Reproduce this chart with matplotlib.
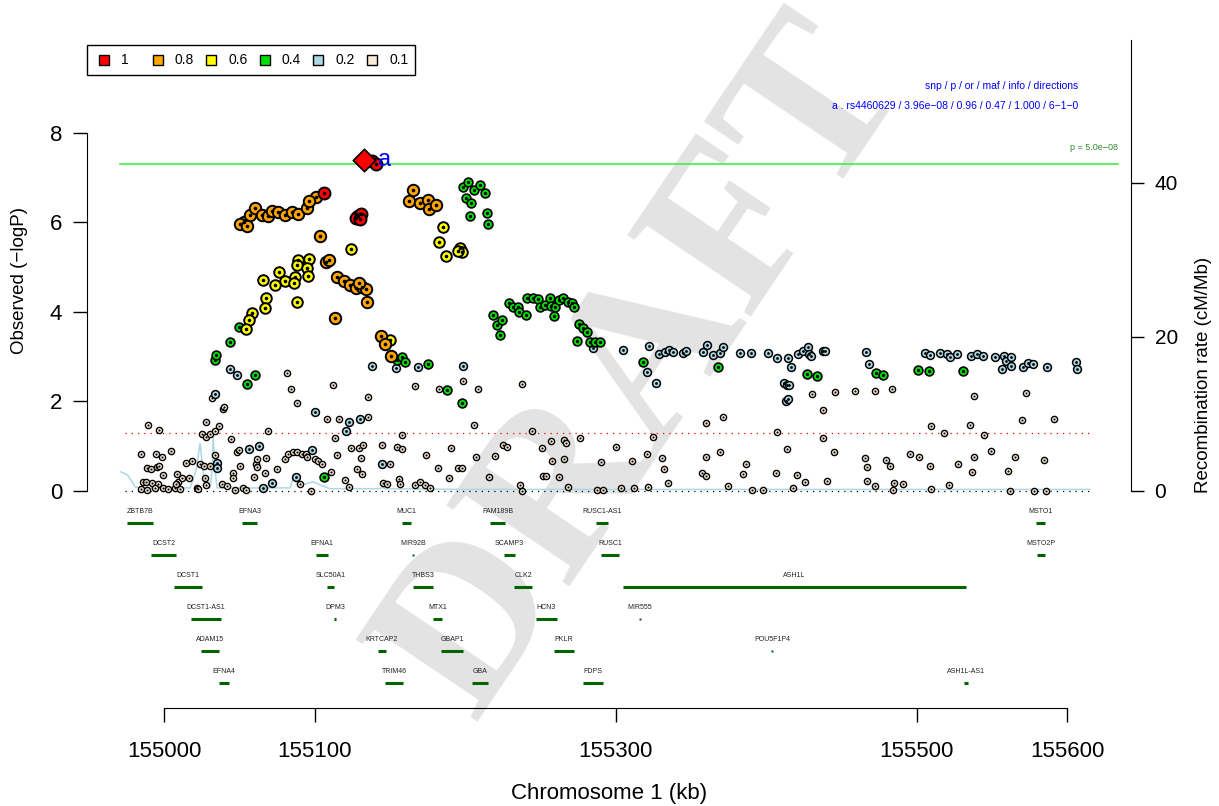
import matplotlib
matplotlib.use("Agg")
import matplotlib.pyplot as plt
from matplotlib.patches import Rectangle
from matplotlib.lines import Line2D
import numpy as np

plt.rcParams['font.family'] = ['Liberation Sans', 'DejaVu Sans']

# ---- SNP association results, grouped by LD with the lead SNP ----
ld1_pos = [155106.4, 155128.9, 155127.6, 155130.9, 155130.2, 155138.2, 155140.9]
ld1_logp = [6.66, 6.15, 6.10, 6.19, 6.08, 7.37, 7.31]

ld08_pos = [155101.0, 155053.2, 155057.1, 155060.5, 155065.1, 155069.1, 155071.8, 155075.8,
            155080.4, 155085.1, 155089.0, 155095.0, 155096.4, 155050.5, 155055.2, 155103.7,
            155107.7, 155109.7, 155113.6, 155115.0, 155119.6, 155123.6, 155127.6, 155131.6,
            155134.2, 155129.6, 155134.9, 155144.2, 155146.9, 155150.8, 155165.5, 155162.8,
            155170.1, 155175.4, 155176.1, 155180.8]
ld08_logp = [6.57, 6.01, 6.17, 6.32, 6.17, 6.15, 6.26, 6.23,
             6.17, 6.23, 6.19, 6.32, 6.48, 5.97, 5.92, 5.70,
             5.12, 5.16, 3.87, 4.78, 4.69, 4.60, 4.54, 4.56,
             4.51, 4.65, 4.22, 3.46, 3.28, 3.02, 6.73, 6.48,
             6.44, 6.50, 6.30, 6.39]

ld06_pos = [155124.3, 155089.0, 155096.4, 155088.4, 155095.0, 155095.7, 155076.4, 155087.1,
            155080.4, 155065.8, 155073.8, 155086.4, 155067.8, 155067.1, 155088.4, 155058.5,
            155056.5, 155054.5, 155150.2, 155185.4, 155182.7, 155187.4, 155196.7, 155198.0,
            155195.4]
ld06_logp = [5.41, 5.16, 5.18, 5.05, 4.98, 4.80, 4.89, 4.78,
             4.69, 4.72, 4.60, 4.65, 4.31, 4.09, 4.22, 3.98,
             3.82, 3.62, 3.37, 5.90, 5.56, 5.25, 5.43, 5.34,
             5.36]

ld04_pos = [155033.9, 155034.6, 155043.9, 155049.8, 155060.5, 155055.2, 155106.3, 155154.8,
            155158.2, 155160.2, 155175.4, 155188.1, 155198.0, 155198.7, 155202.0, 155206.0,
            155210.0, 155213.3, 155200.7, 155204.0, 155203.3, 155214.6, 155215.3, 155218.6,
            155221.3, 155223.3, 155224.6, 155229.3, 155231.9, 155235.2, 155235.9, 155240.5,
            155241.2, 155245.2, 155248.5, 155249.9, 155253.2, 155256.5, 155257.2, 155259.8,
            155259.2, 155262.5, 155265.1, 155268.5, 155271.1, 155272.4, 155275.8, 155278.4,
            155281.1, 155274.4, 155283.1, 155286.4, 155289.7, 155318.3, 155368.1, 155427.3,
            155433.9, 155473.1, 155477.8, 155501.0, 155508.3, 155530.9]
ld04_logp = [2.93, 3.04, 3.33, 3.66, 2.59, 2.39, 0.31, 2.93,
             2.99, 2.88, 2.84, 2.26, 1.97, 6.79, 6.90, 6.73,
             6.84, 6.66, 6.55, 6.44, 6.15, 6.21, 5.97, 3.93,
             3.71, 3.49, 3.82, 4.20, 4.11, 4.11, 4.00, 3.93,
             4.31, 4.31, 4.29, 4.11, 4.16, 4.31, 4.13, 4.11,
             3.91, 4.27, 4.31, 4.22, 4.20, 4.11, 3.73, 3.64,
             3.55, 3.35, 3.33, 3.33, 3.33, 2.88, 2.77, 2.61,
             2.57, 2.64, 2.59, 2.70, 2.68, 2.68]

ld02_pos = [155033.9, 155043.9, 155048.5, 155035.2, 155035.2, 155056.5, 155063.1, 155065.8,
            155071.8, 155087.7, 155098.3, 155100.3, 155120.9, 155122.9, 155130.2, 155138.2,
            155144.9, 155154.2, 155168.8, 155285.1, 155305.0, 155322.3, 155321.0, 155326.9,
            155328.9, 155332.9, 155335.6, 155338.2, 155344.9, 155346.9, 155358.2, 155360.8,
            155364.8, 155369.5, 155371.5, 155382.8, 155390.1, 155401.4, 155407.4, 155414.7,
            155416.6, 155412.0, 155414.0, 155415.3, 155413.3, 155414.7, 155421.3, 155424.6,
            155428.0, 155428.6, 155429.9, 155437.9, 155439.2, 155466.5, 155468.5, 155505.7,
            155509.0, 155515.7, 155520.3, 155522.3, 155527.0, 155536.3, 155540.2, 155544.2,
            155552.2, 155558.2, 155559.5, 155562.8, 155562.8, 155556.9, 155570.8, 155574.1,
            155577.5, 155586.8, 155606.0, 155606.7, 155198.9]
ld02_logp = [2.17, 2.73, 2.59, 0.63, 0.51, 0.94, 1.01, 0.07,
             0.18, 0.31, 0.92, 1.77, 1.34, 1.54, 1.61, 2.79,
             0.60, 2.75, 2.77, 3.20, 3.15, 3.24, 2.66, 2.41,
             3.06, 3.11, 3.15, 3.11, 3.08, 3.13, 3.11, 3.26,
             3.04, 3.08, 3.22, 3.08, 3.08, 3.08, 2.97, 2.97,
             2.77, 2.41, 2.37, 2.37, 2.01, 2.06, 3.06, 3.13,
             3.22, 3.06, 3.02, 3.13, 3.13, 3.11, 2.84, 3.08,
             3.04, 3.08, 3.06, 2.99, 3.06, 3.02, 3.06, 3.02,
             2.99, 3.02, 2.91, 2.99, 2.79, 2.73, 2.77, 2.86,
             2.84, 2.77, 2.88, 2.73, 2.80]

ld01_pos = [154989.4, 154996.7, 154984.7, 154994.7, 154998.7, 155004.7, 154988.7, 154991.4,
            154995.3, 154996.7, 154999.3, 154986.0, 154988.0, 154992.0, 154996.0, 154984.7,
            154988.7, 154994.0, 154999.3, 155002.7, 155007.3, 155010.6, 155009.3, 155008.0,
            155008.6, 155012.0, 155016.6, 155014.6, 155018.6, 155025.3, 155027.9, 155030.6,
            155033.9, 155036.5, 155027.9, 155039.2, 155039.9, 155031.9, 155023.9, 155026.6,
            155030.6, 155033.9, 155027.2, 155021.9, 155022.6, 155027.9, 155038.5, 155041.9,
            155047.2, 155052.5, 155054.5, 155044.5, 155048.5, 155049.8, 155050.5, 155045.9,
            155045.9, 155059.8, 155061.1, 155061.8, 155061.8, 155067.8, 155069.1, 155067.1,
            155075.1, 155081.7, 155084.4, 155088.4, 155080.4, 155082.4, 155085.7, 155088.4,
            155091.7, 155094.4, 155095.0, 155100.3, 155102.3, 155105.0, 155090.4, 155097.7,
            155112.3, 155108.3, 155116.3, 155135.6, 155135.6, 155113.6, 155115.0, 155111.0,
            155124.3, 155129.6, 155132.2, 155130.9, 155128.2, 155131.6, 155120.3, 155122.9,
            155144.9, 155154.8, 155158.2, 155158.2, 155150.2, 155145.5, 155148.2, 155156.2,
            155156.8, 155166.8, 155170.1, 155173.4, 155176.8, 155174.1, 155182.1, 155166.8,
            155189.4,
            155182.7, 155198.9, 155208.5, 155238.1, 155205.8, 155244.3, 155257.2, 155266.0,
            155266.9, 155190.9, 155225.5, 155228.1, 155251.0, 155207.5, 155219.9, 155257.8,
            155265.8, 155195.4, 155198.2, 155215.8, 155252.0, 155254.0, 155262.3, 155236.6,
            155237.7, 155268.5,
            155276.4, 155290.4, 155287.7, 155291.7, 155300.4, 155303.7, 155311.0, 155312.3,
            155321.0, 155321.6, 155325.0, 155330.9, 155332.3, 155334.9, 155357.5, 155360.2,
            155360.2, 155360.2, 155371.5, 155369.5, 155374.8, 155384.8, 155386.8, 155390.7,
            155398.1, 155407.4, 155406.7, 155414.0, 155418.0, 155420.6, 155426.0, 155430.6,
            155437.9, 155437.9, 155440.6, 155445.2, 155445.9, 155459.2, 155465.8, 155467.2,
            155467.2, 155472.5, 155472.5, 155483.8, 155479.8, 155482.4, 155485.1, 155484.4,
            155491.1, 155495.7, 155501.7, 155509.7, 155518.3, 155509.0, 155509.7, 155521.6,
            155527.6, 155535.6, 155538.2, 155538.2, 155536.9, 155544.9, 155549.5, 155560.8,
            155562.2, 155565.5, 155570.2, 155572.8, 155578.1, 155584.8, 155586.1, 155591.4]
ld01_logp = [1.47, 1.36, 0.83, 0.83, 0.76, 0.89, 0.51, 0.49,
             0.54, 0.56, 0.36, 0.20, 0.20, 0.18, 0.16, 0.04,
             0.02, 0.07, 0.07, 0.04, 0.07, 0.04, 0.20, 0.16,
             0.38, 0.29, 0.29, 0.63, 0.67, 1.27, 1.21, 1.27,
             1.34, 1.45, 1.54, 1.83, 1.88, 2.08, 0.60, 0.56,
             0.56, 0.80, 0.29, 0.07, 0.04, 0.13, 0.16, 0.11,
             0.02, 0.07, 0.02, 1.16, 0.87, 0.92, 0.56, 0.40,
             0.29, 0.31, 0.60, 0.72, 0.54, 0.74, 1.34, 0.40,
             0.49, 2.64, 2.28, 1.97, 0.72, 0.83, 0.87, 0.87,
             0.83, 0.83, 0.76, 0.72, 0.67, 0.60, 0.16, 0.00,
             2.37, 1.61, 1.61, 2.10, 1.65, 1.18, 0.80, 0.42,
             0.96, 0.96, 1.03, 0.74, 0.49, 0.38, 0.25, 0.09,
             1.03, 0.98, 0.94, 1.25, 0.60, 0.18, 0.16, 0.27,
             0.16, 0.13, 0.20, 0.13, 0.07, 0.80, 0.51, 2.35,
             0.29,
             2.28, 2.45, 2.29, 2.40, 1.47, 1.33, 1.11, 1.13,
             1.07, 0.95, 1.02, 0.98, 0.95, 0.76, 0.79, 0.68,
             0.72, 0.51, 0.51, 0.31, 0.33, 0.33, 0.32, 0.13,
             0.01, 0.09,
             1.18, 0.65, 0.02, 0.02, 0.98, 0.07, 0.67, 0.07,
             0.83, 0.09, 1.21, 0.74, 0.49, 0.18, 0.40, 0.34,
             0.76, 1.52, 1.65, 0.87, 0.11, 0.38, 0.60, 0.02,
             0.02, 1.32, 0.40, 0.94, 0.07, 0.36, 0.20, 2.17,
             1.81, 1.18, 0.22, 0.87, 2.21, 2.23, 0.74, 0.54,
             0.22, 2.23, 0.11, 2.28, 0.69, 0.56, 0.18, 0.02,
             0.16, 0.83, 0.76, 1.45, 1.30, 0.56, 0.04, 0.13,
             0.60, 1.47, 2.12, 0.76, 0.42, 1.25, 0.89, 0.45,
             0.00, 0.76, 1.59, 2.19, 0.00, 0.69, 0.00, 1.61]

lead_pos = 155132.9
lead_logp = 7.40

# ---- recombination rate (cM/Mb) ----
rec_pos = [154971.0, 154975.7, 154981.0, 154990.0, 154999.0, 155009.3, 155017.3, 155021.3,
           155023.9, 155025.9, 155027.2, 155030.6, 155031.9, 155032.6, 155033.9, 155035.2,
           155060.0, 155083.7, 155086.4, 155088.4, 155093.7, 155099.0, 155103.7, 155110.3,
           155143.5, 155144.9, 155146.9, 155200.0, 155300.0, 155400.0, 155500.0, 155615.0]
rec_rate = [2.5, 2.1, 0.5, 0.4, 0.4, 0.4, 0.4, 2.7,
            6.2, 2.7, 0.4, 0.4, 2.7, 7.0, 2.7, 0.4,
            0.4, 0.4, 2.1, 0.9, 0.9, 1.2, 0.8, 0.3,
            0.3, 0.5, 0.3, 0.2, 0.2, 0.2, 0.2, 0.2]

# ---- genes in the region ----
gene_names = ['ZBTB7B', 'EFNA3', 'MUC1', 'FAM189B', 'RUSC1-AS1', 'MSTO1',
              'DCST2', 'EFNA1', 'MIR92B', 'SCAMP3', 'RUSC1', 'MSTO2P',
              'DCST1', 'SLC50A1', 'THBS3', 'CLK2', 'ASH1L',
              'DCST1-AS1', 'DPM3', 'MTX1', 'HCN3', 'MIR555',
              'ADAM15', 'KRTCAP2', 'GBAP1', 'PKLR', 'POU5F1P4',
              'EFNA4', 'TRIM46', 'GBA', 'FDPS', 'ASH1L-AS1']
gene_start = [154975.4, 155051.8, 155158.1, 155216.6, 155287.0, 155579.4,
              154991.4, 155101.0, 155165.3, 155225.9, 155290.4, 155580.1,
              155006.6, 155108.3, 155165.4, 155232.6, 155305.0,
              155017.9, 155113.1, 155178.7, 155247.2, 155316.2,
              155024.6, 155142.2, 155184.1, 155259.1, 155403.8,
              155036.5, 155146.8, 155204.7, 155278.4, 155531.6]
gene_end = [154992.7, 155061.8, 155164.1, 155226.6, 155295.0, 155585.4,
            155008.0, 155109.0, 155165.4, 155233.2, 155302.3, 155585.4,
            155025.2, 155113.0, 155178.7, 155244.5, 155532.9,
            155037.9, 155114.1, 155184.7, 155261.1, 155316.3,
            155036.5, 155147.5, 155198.7, 155272.4, 155404.2,
            155043.2, 155158.8, 155215.3, 155291.7, 155534.2]
gene_row = [0, 0, 0, 0, 0, 0,
            1, 1, 1, 1, 1, 1,
            2, 2, 2, 2, 2,
            3, 3, 3, 3, 3,
            4, 4, 4, 4, 4,
            5, 5, 5, 5, 5]

ld_labels = ['1', '0.8', '0.6', '0.4', '0.2', '0.1']
ld_colors = ['#FF0000', '#FFA500', '#FFFF00', '#00E000', '#ADD8E6', '#FAEBD7']

x_ticks = [155000, 155100, 155300, 155500, 155600]
x_range = (154948.8, 155642.5)

fig = plt.figure(figsize=(12.19, 8.06), dpi=100)
W, H = 1219.0, 806.0

# main association panel
ax = fig.add_axes([87 / W, 1 - 500 / H, (1131 - 87) / W, 460 / H])
ax.set_xlim(*x_range)
ax.set_ylim(-0.2011, 10.078)
ax.patch.set_alpha(0)

ax2 = ax.twinx()
ax2.set_ylim(-1.169, 58.57)
ax2.set_zorder(ax.get_zorder() - 1)

# watermark
fig.text(0.53, 0.54, 'DRAFT', rotation=56, fontsize=162, fontweight='bold',
         family='Liberation Serif', color='#e3e3e3', ha='center', va='center',
         zorder=-5)

ax2.plot(rec_pos, rec_rate, color='#ADD8E6', lw=1.1, zorder=1)

ax.plot([154970.8, 155634.0], [7.30, 7.30], color='#44EE44', lw=1.2, zorder=2)
ax.plot([154974.1, 155615.3], [1.30, 1.30], color='red', lw=0.9, ls=(0, (1, 4)), zorder=2)
ax.plot([154974.1, 155615.3], [0.0, 0.0], color='black', lw=0.9, ls=(0, (1, 4)), zorder=2)

groups = [(ld01_pos, ld01_logp, 5, 20, 1.0, 1.5),
          (ld02_pos, ld02_logp, 4, 32, 1.1, 2.0),
          (ld04_pos, ld04_logp, 3, 40, 1.2, 2.4),
          (ld06_pos, ld06_logp, 2, 58, 1.4, 2.6),
          (ld08_pos, ld08_logp, 1, 68, 1.4, 2.6),
          (ld1_pos, ld1_logp, 0, 74, 1.4, 2.6)]
z = 3
for pos, logp, ci, size, lw, dot in groups:
    ax.scatter(pos, logp, s=size, c=ld_colors[ci], edgecolors='black',
               linewidths=lw, zorder=z)
    ax.scatter(pos, logp, s=dot ** 2, c='black', linewidths=0, zorder=z + 0.5)
    z += 1

ax.scatter([lead_pos], [lead_logp], marker='D', s=130, c='#FF0000',
           edgecolors='black', linewidths=1.2, zorder=z)
ax.annotate('a', (lead_pos, lead_logp), xytext=(10, 0), textcoords='offset points',
            color='blue', fontsize=17, ha='left', va='center', zorder=z + 1)

# spines and ticks
for a in (ax, ax2):
    a.spines['top'].set_visible(False)
    a.spines['bottom'].set_visible(False)
ax.spines['right'].set_visible(False)
ax2.spines['left'].set_visible(False)
ax.spines['left'].set_bounds(0, 8)
ax2.spines['right'].set_bounds(0, 58.57)
ax.set_xticks([])
ax2.set_xticks([])
ax.set_yticks([0, 2, 4, 6, 8])
ax.tick_params(axis='y', length=10, width=1.0, labelsize=16, pad=8)
ax2.set_yticks([0, 20, 40])
ax2.tick_params(axis='y', length=9, width=1.0, labelsize=15, pad=8)

fig.text(20 / W, 1 - 280 / H, 'Observed (\u2212logP)', rotation=90, fontsize=13.5,
         ha='center', va='center')
fig.text(1203 / W, 1 - 375 / H, 'Recombination rate (cM/Mb)', rotation=90,
         fontsize=13.5, ha='center', va='center')

# annotation text
fig.text(1078 / W, 1 - 86 / H, 'snp / p / or / maf / info / directions',
         color='blue', fontsize=7.5, ha='right', va='center')
fig.text(1078 / W, 1 - 106 / H,
         'a . rs4460629 / 3.96e\u221208 / 0.96 / 0.47 / 1.000 / 6\u22121\u22120',
         color='blue', fontsize=7.5, ha='right', va='center')
fig.text(1118 / W, 1 - 147 / H, 'p = 5.0e\u221208',
         color='#2E8B2E', fontsize=6.5, ha='right', va='center')

# LD legend: boxed row of colour keys with equal column widths
fig.add_artist(Rectangle((87 / W, 1 - 75 / H), 328 / W, 30 / H, transform=fig.transFigure,
                         facecolor='white', edgecolor='black', lw=1.0, zorder=10))
for i, (lab, col) in enumerate(zip(ld_labels, ld_colors)):
    kx = (104 + 53.6 * i) / W
    fig.add_artist(Line2D([kx], [1 - 60 / H], transform=fig.transFigure, marker='s',
                          ms=7.5, mfc=col, mec='black', mew=1.0, ls='', zorder=11))
    fig.text(kx + 17 / W, 1 - 60 / H, lab, fontsize=10, ha='left', va='center', zorder=11)

# gene track
gx = fig.add_axes([87 / W, 1 - 708 / H, (1131 - 87) / W, 208 / H])
gx.set_xlim(*x_range)
gx.set_ylim(5.78, -0.71875)
gx.patch.set_alpha(0)
for name, s, e, r in zip(gene_names, gene_start, gene_end, gene_row):
    mid = (s + e) / 2
    if e - s < 1.0:
        gx.plot([mid], [r], marker='s', ms=1.6, color='#006400', mec='none')
    else:
        gx.plot([s, e], [r, r], color='#006400', lw=2.2, solid_capstyle='butt')
    gx.annotate(name, (mid, r), xytext=(0, 8), textcoords='offset points',
                fontsize=5, color='#222222', ha='center', va='center')

for sp in ('top', 'left', 'right'):
    gx.spines[sp].set_visible(False)
gx.spines['bottom'].set_bounds(155000, 155600)
gx.set_yticks([])
gx.set_xticks(x_ticks)
gx.set_xticklabels([str(t) for t in x_ticks])
gx.tick_params(axis='x', direction='out', length=10, width=1.0, labelsize=16, pad=14)
fig.text(609 / W, 1 - 793 / H, 'Chromosome 1 (kb)', fontsize=16, ha='center', va='center')

fig.savefig('out.png', dpi=100)
